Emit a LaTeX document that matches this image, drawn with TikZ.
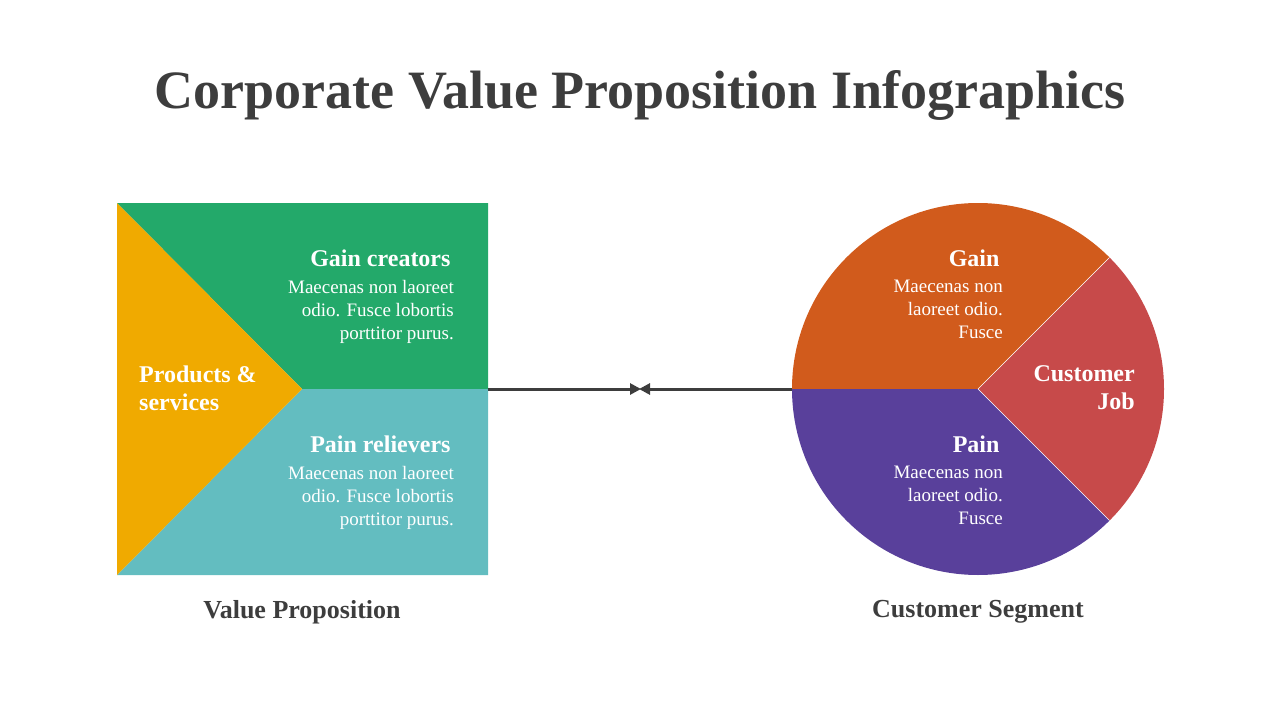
\documentclass[tikz,border=0pt]{standalone}
\usepackage{fontspec}
\setmainfont{Liberation Serif}
\usetikzlibrary{arrows.meta}
\definecolor{dark}{HTML}{3D3D3D}
\definecolor{gr}{HTML}{23A96A}
\definecolor{tl}{HTML}{63BDC0}
\definecolor{yl}{HTML}{F0AA00}
\definecolor{org}{HTML}{D15B1C}
\definecolor{rd}{HTML}{C74A4A}
\definecolor{pp}{HTML}{59409B}
\tikzset{head/.style={font=\bfseries\fontsize{24}{28}\selectfont,text=white},
 body/.style={font=\fontsize{19}{23}\selectfont,text=white,align=right},
 captext/.style={font=\bfseries\fontsize{26}{30}\selectfont,text=dark},
 conn/.style={dark,line width=3pt,-{Triangle[length=11pt,width=11pt]}}}
\begin{document}
\begin{tikzpicture}[x=1pt,y=-1pt]
\useasboundingbox (0,0) rectangle (1280,720);
\node[font=\bfseries\fontsize{54}{60}\selectfont,text=dark] (title) at (640,95) {Corporate Value Proposition Infographics};
% square
\fill[gr] (117,203) -- (488,203) -- (488,389) -- (302,389) -- cycle;
\fill[tl] (117,575) -- (488,575) -- (488,389) -- (302,389) -- cycle;
\fill[yl] (117,203) -- (302,389) -- (117,575) -- cycle;
\node[head,anchor=east] (gc) at (454,258) {Gain creators};
\node[body,anchor=north east,inner sep=0pt] (gct) at (454,280) {Maecenas non laoreet\\odio. Fusce lobortis\\porttitor purus.};
\node[head,anchor=east] (pr) at (454,444) {Pain relievers};
\node[body,anchor=north east,inner sep=0pt] (prt) at (454,466) {Maecenas non laoreet\\odio. Fusce lobortis\\porttitor purus.};
\node[head,align=left,anchor=west,inner sep=0pt] (ps) at (139,388) {Products \&\\services};
% circle
\fill[org] (978,389) -- (792,389) arc[start angle=180,end angle=315,radius=186] -- cycle;
\fill[rd] (978,389) -- +(-45:186) arc[start angle=-45,end angle=45,radius=186] -- cycle;
\fill[pp] (978,389) -- +(45:186) arc[start angle=45,end angle=180,radius=186] -- cycle;
\draw[white,line width=0.5pt] (978,389) -- +(-45:186) (978,389) -- +(45:186);
\node[head,anchor=east] (g) at (1003,258) {Gain};
\node[body,anchor=north east,inner sep=0pt] (gt) at (1003,280) {Maecenas non\\laoreet odio.\\Fusce};
\node[head,anchor=east] (p) at (1003,444) {Pain};
\node[body,anchor=north east,inner sep=0pt] (pt) at (1003,466) {Maecenas non\\laoreet odio.\\Fusce};
\node[head,align=right,anchor=east,inner sep=0pt] (cj) at (1135,388) {Customer\\Job};
\node[captext] (vp) at (302,612) {Value Proposition};
\node[captext] (cs) at (978,612) {Customer Segment};
\coordinate (l) at (488,389); \coordinate (r) at (792,389);
\coordinate (ml) at (641,389); \coordinate (mr) at (639,389);
\draw[conn] (l) -- (ml);
\draw[conn] (r) -- (mr);
\end{tikzpicture}
\end{document}
